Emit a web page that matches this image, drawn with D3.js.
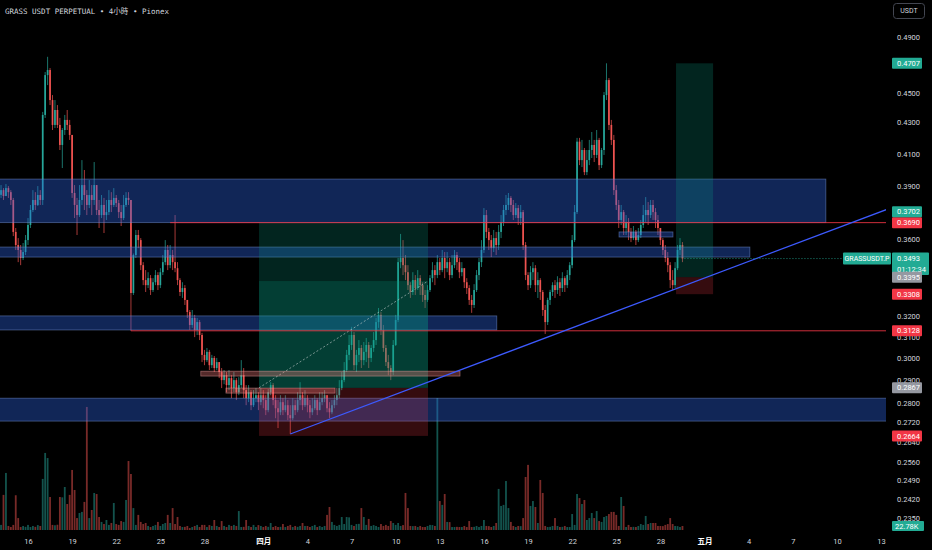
<!DOCTYPE html>
<html>
<head>
<meta charset="utf-8">
<script src="https://cdn.jsdelivr.net/npm/d3@7/dist/d3.min.js"></script>
<style>
  html, body { margin: 0; padding: 0; background: #000; }
  svg { display: block; }
  text { font-family: Roboto, "Noto Sans CJK SC", sans-serif; }
</style>
</head>
<body>
<svg id="chart"></svg>
<script>
var width = 932, height = 550
var plotW = 886, plotH = 530

// 4h candles, first bar opens 2025-03-14 04:00 UTC
var firstBar = Date.UTC(2025, 2, 14, 4)
var barMs = 4 * 3600 * 1000
var firstOpen = 0.3850

var closes = [
  0.3878, 0.3843, 0.3890, 0.3866, 0.3820,          // 3/14
  0.3638, 0.3566, 0.3539, 0.3496, 0.3528, 0.3593,  // 3/15
  0.3677, 0.3762, 0.3820, 0.3791, 0.3849, 0.3820,  // 3/16
  0.4350, 0.4623, 0.4659, 0.4450, 0.4284, 0.4383,  // 3/17
  0.4284, 0.4155, 0.4251, 0.4317, 0.4284, 0.4219,  // 3/18
  0.3861, 0.3791, 0.3733, 0.3820, 0.3908, 0.3849,  // 3/19
  0.3791, 0.3849, 0.3820, 0.3908, 0.3762, 0.3733,  // 3/20
  0.3791, 0.3733, 0.3750, 0.3820, 0.3791, 0.3832,  // 3/21
  0.3802, 0.3750, 0.3716, 0.3791, 0.3832, 0.3820,  // 3/22
  0.3314, 0.3512, 0.3621, 0.3593, 0.3458, 0.3380,  // 3/23
  0.3354, 0.3390, 0.3329, 0.3369, 0.3406, 0.3354,  // 3/24
  0.3421, 0.3474, 0.3539, 0.3458, 0.3512, 0.3474,  // 3/25
  0.3442, 0.3380, 0.3319, 0.3339, 0.3279, 0.3219,  // 3/26
  0.3156, 0.3190, 0.3132, 0.3170, 0.3108, 0.3015,  // 3/27
  0.2991, 0.3029, 0.2968, 0.3001, 0.2955, 0.2982,  // 3/28
  0.2937, 0.2901, 0.2923, 0.2879, 0.2910, 0.2866,  // 3/29
  0.2901, 0.2848, 0.2879, 0.2923, 0.2857, 0.2822,  // 3/30
  0.2848, 0.2792, 0.2822, 0.2835, 0.2805, 0.2835,  // 3/31
  0.2814, 0.2771, 0.2848, 0.2879, 0.2814, 0.2779,  // 4/1
  0.2762, 0.2805, 0.2771, 0.2792, 0.2750, 0.2737,  // 4/2
  0.2792, 0.2771, 0.2814, 0.2835, 0.2792, 0.2822,  // 4/3
  0.2792, 0.2762, 0.2779, 0.2814, 0.2771, 0.2805,  // 4/4
  0.2822, 0.2835, 0.2779, 0.2762, 0.2792, 0.2814,  // 4/5
  0.2835, 0.2866, 0.2901, 0.2946, 0.3015, 0.3061,  // 4/6
  0.3108, 0.2968, 0.3015, 0.3047, 0.2991, 0.3029,  // 4/7
  0.3061, 0.3001, 0.3047, 0.3084, 0.3170, 0.3205,  // 4/8
  0.3132, 0.3047, 0.2982, 0.2955, 0.2937, 0.3061,  // 4/9
  0.3180, 0.3474, 0.3496, 0.3458, 0.3421, 0.3354,  // 4/10
  0.3319, 0.3380, 0.3339, 0.3390, 0.3354, 0.3304,  // 4/11
  0.3279, 0.3329, 0.3390, 0.3432, 0.3406, 0.3474,  // 4/12
  0.3432, 0.3496, 0.3442, 0.3474, 0.3406, 0.3458,  // 4/13
  0.3512, 0.3474, 0.3421, 0.3442, 0.3369, 0.3339,  // 4/14
  0.3279, 0.3254, 0.3329, 0.3406, 0.3474, 0.3539,  // 4/15
  0.3733, 0.3638, 0.3593, 0.3549, 0.3604, 0.3566,  // 4/16
  0.3638, 0.3694, 0.3762, 0.3791, 0.3832, 0.3791,  // 4/17
  0.3733, 0.3773, 0.3716, 0.3750, 0.3566, 0.3406,  // 4/18
  0.3354, 0.3421, 0.3442, 0.3354, 0.3380, 0.3319,  // 4/19
  0.3229, 0.3170, 0.3279, 0.3319, 0.3354, 0.3329,  // 4/20
  0.3369, 0.3339, 0.3390, 0.3354, 0.3406, 0.3458,  // 4/21
  0.3593, 0.3750, 0.4176, 0.4060, 0.4123, 0.3986,  // 4/22
  0.4060, 0.4123, 0.4155, 0.4092, 0.4187, 0.4029,  // 4/23
  0.4123, 0.4484, 0.4588, 0.4284, 0.4187, 0.3878,  // 4/24
  0.3791, 0.3705, 0.3750, 0.3660, 0.3694, 0.3638,  // 4/25
  0.3604, 0.3638, 0.3593, 0.3621, 0.3677, 0.3733,  // 4/26
  0.3762, 0.3733, 0.3791, 0.3750, 0.3705, 0.3660,  // 4/27
  0.3593, 0.3539, 0.3496, 0.3458, 0.3380, 0.3354,  // 4/28
  0.3442, 0.3539, 0.3566, 0.3493                   // 4/29
]

var highs = [
  0.3908, 0.3890, 0.3914, 0.3902, 0.3878,
  0.3832, 0.3660, 0.3604, 0.3566, 0.3577, 0.3621,
  0.3716, 0.3791, 0.3878, 0.3866, 0.3902, 0.3878,
  0.4370, 0.4645, 0.4754, 0.4673, 0.4484, 0.4450,
  0.4416, 0.4330, 0.4264, 0.4350, 0.4383, 0.4317,
  0.4219, 0.3908, 0.3832, 0.3908, 0.4060, 0.3999,
  0.3878, 0.3938, 0.3908, 0.4048, 0.3890, 0.3820,
  0.3849, 0.3832, 0.3820, 0.3878, 0.3866, 0.3890,
  0.3849, 0.3820, 0.3791, 0.3849, 0.3866, 0.3866,
  0.3820, 0.3520, 0.3649, 0.3649, 0.3604, 0.3474,
  0.3432, 0.3421, 0.3406, 0.3390, 0.3432, 0.3421,
  0.3442, 0.3512, 0.3593, 0.3566, 0.3566, 0.3539,
  0.3733, 0.3474, 0.3390, 0.3369, 0.3354, 0.3269,
  0.3229, 0.3229, 0.3205, 0.3190, 0.3180, 0.3118,
  0.3038, 0.3047, 0.3038, 0.3015, 0.3010, 0.3001,
  0.2982, 0.2955, 0.2946, 0.2937, 0.2946, 0.2923,
  0.2937, 0.2910, 0.2914, 0.2991, 0.2955, 0.2879,
  0.2879, 0.2857, 0.2857, 0.2866, 0.2848, 0.2866,
  0.2857, 0.2835, 0.2862, 0.2892, 0.2888, 0.2835,
  0.2814, 0.2835, 0.2822, 0.2835, 0.2814, 0.2792,
  0.2822, 0.2814, 0.2848, 0.2892, 0.2848, 0.2857,
  0.2835, 0.2814, 0.2822, 0.2835, 0.2822, 0.2848,
  0.2848, 0.2857, 0.2835, 0.2805, 0.2814, 0.2835,
  0.2866, 0.2901, 0.2937, 0.2982, 0.3038, 0.3108,
  0.3147, 0.3122, 0.3038, 0.3084, 0.3061, 0.3075,
  0.3094, 0.3075, 0.3061, 0.3122, 0.3190, 0.3239,
  0.3219, 0.3156, 0.3061, 0.3015, 0.2968, 0.3084,
  0.3205, 0.3496, 0.3627, 0.3593, 0.3512, 0.3458,
  0.3369, 0.3421, 0.3406, 0.3432, 0.3406, 0.3369,
  0.3329, 0.3354, 0.3406, 0.3474, 0.3458, 0.3512,
  0.3496, 0.3539, 0.3528, 0.3528, 0.3496, 0.3512,
  0.3539, 0.3528, 0.3496, 0.3474, 0.3442, 0.3390,
  0.3354, 0.3304, 0.3359, 0.3432, 0.3496, 0.3593,
  0.3773, 0.3762, 0.3660, 0.3621, 0.3649, 0.3638,
  0.3677, 0.3733, 0.3791, 0.3849, 0.3861, 0.3843,
  0.3820, 0.3802, 0.3791, 0.3791, 0.3762, 0.3582,
  0.3421, 0.3453, 0.3474, 0.3458, 0.3421, 0.3390,
  0.3329, 0.3254, 0.3290, 0.3330, 0.3369, 0.3380,
  0.3400, 0.3390, 0.3421, 0.3400, 0.3432, 0.3474,
  0.3621, 0.3791, 0.4200, 0.4200, 0.4187, 0.4136,
  0.4123, 0.4187, 0.4238, 0.4187, 0.4251, 0.4200,
  0.4136, 0.4505, 0.4707, 0.4602, 0.4317, 0.4219,
  0.3908, 0.3820, 0.3791, 0.3762, 0.3733, 0.3716,
  0.3660, 0.3671, 0.3649, 0.3660, 0.3705, 0.3791,
  0.3837, 0.3808, 0.3820, 0.3820, 0.3773, 0.3733,
  0.3660, 0.3604, 0.3566, 0.3528, 0.3474, 0.3432,
  0.3474, 0.3566, 0.3604, 0.3582
]

var lows = [
  0.3832, 0.3820, 0.3855, 0.3832, 0.3791,
  0.3615, 0.3539, 0.3474, 0.3458, 0.3485, 0.3512,
  0.3566, 0.3660, 0.3750, 0.3762, 0.3785, 0.3791,
  0.3791, 0.4330, 0.4553, 0.4416, 0.4251, 0.4264,
  0.4264, 0.4123, 0.4011, 0.4219, 0.4251, 0.4187,
  0.3832, 0.3716, 0.3621, 0.3722, 0.3791, 0.3762,
  0.3733, 0.3773, 0.3733, 0.3791, 0.3733, 0.3660,
  0.3716, 0.3632, 0.3705, 0.3733, 0.3750, 0.3779,
  0.3779, 0.3716, 0.3671, 0.3705, 0.3779, 0.3791,
  0.3128, 0.3304, 0.3496, 0.3549, 0.3432, 0.3354,
  0.3319, 0.3339, 0.3304, 0.3319, 0.3354, 0.3329,
  0.3339, 0.3406, 0.3458, 0.3432, 0.3442, 0.3432,
  0.3421, 0.3354, 0.3299, 0.3289, 0.3254, 0.3190,
  0.3132, 0.3142, 0.3098, 0.3108, 0.3084, 0.2982,
  0.2968, 0.2982, 0.2946, 0.2955, 0.2937, 0.2946,
  0.2910, 0.2866, 0.2883, 0.2848, 0.2857, 0.2822,
  0.2848, 0.2814, 0.2835, 0.2866, 0.2822, 0.2792,
  0.2805, 0.2771, 0.2784, 0.2805, 0.2771, 0.2792,
  0.2779, 0.2750, 0.2762, 0.2835, 0.2792, 0.2737,
  0.2696, 0.2750, 0.2750, 0.2762, 0.2729, 0.2672,
  0.2729, 0.2750, 0.2762, 0.2792, 0.2771, 0.2784,
  0.2762, 0.2737, 0.2750, 0.2771, 0.2750, 0.2771,
  0.2792, 0.2805, 0.2762, 0.2737, 0.2754, 0.2779,
  0.2792, 0.2822, 0.2857, 0.2892, 0.2937, 0.2991,
  0.3038, 0.2946, 0.2937, 0.2982, 0.2955, 0.2968,
  0.2982, 0.2955, 0.2982, 0.3029, 0.3061, 0.3142,
  0.3108, 0.3029, 0.2964, 0.2923, 0.2901, 0.2923,
  0.3056, 0.3170, 0.3442, 0.3406, 0.3380, 0.3329,
  0.3289, 0.3304, 0.3304, 0.3329, 0.3304, 0.3269,
  0.3239, 0.3269, 0.3319, 0.3369, 0.3354, 0.3390,
  0.3406, 0.3421, 0.3390, 0.3421, 0.3380, 0.3390,
  0.3442, 0.3432, 0.3390, 0.3400, 0.3339, 0.3309,
  0.3254, 0.3215, 0.3239, 0.3319, 0.3380, 0.3448,
  0.3523, 0.3604, 0.3539, 0.3501, 0.3528, 0.3512,
  0.3539, 0.3604, 0.3671, 0.3733, 0.3762, 0.3750,
  0.3705, 0.3716, 0.3677, 0.3677, 0.3539, 0.3380,
  0.3329, 0.3339, 0.3380, 0.3319, 0.3289, 0.3279,
  0.3200, 0.3113, 0.3156, 0.3254, 0.3299, 0.3289,
  0.3309, 0.3299, 0.3319, 0.3319, 0.3339, 0.3380,
  0.3442, 0.3582, 0.3739, 0.4029, 0.4017, 0.3968,
  0.3968, 0.4029, 0.4073, 0.4048, 0.4073, 0.3999,
  0.4011, 0.4092, 0.4450, 0.4251, 0.4155, 0.3849,
  0.3762, 0.3660, 0.3677, 0.3621, 0.3621, 0.3593,
  0.3582, 0.3593, 0.3566, 0.3582, 0.3604, 0.3660,
  0.3694, 0.3677, 0.3716, 0.3705, 0.3660, 0.3621,
  0.3566, 0.3512, 0.3474, 0.3421, 0.3339, 0.3329,
  0.3339, 0.3432, 0.3512, 0.3474
]

// volume, thousands
var volumes = [
  29, 200, 325, 23, 17,
  29, 198, 68, 17, 23, 18,
  29, 17, 23, 18, 28, 23,
  291, 439, 410, 188, 29, 27,
  30, 188, 186, 245, 148, 200,
  342, 228, 68, 97, 103, 160,
  701, 68, 114, 211, 205, 74,
  46, 34, 57, 29, 40, 154,
  34, 29, 51, 46, 171, 393,
  319, 125, 29, 86, 46, 34,
  40, 23, 17, 23, 29, 46,
  23, 34, 40, 86, 40, 125,
  34, 74, 23, 17, 18, 23,
  11, 17, 23, 29, 17, 29,
  29, 17, 28, 23, 57, 23,
  17, 51, 23, 17, 29, 23,
  29, 23, 108, 17, 18, 57,
  23, 17, 29, 17, 28, 23,
  17, 23, 18, 40, 17, 23,
  17, 18, 34, 17, 23, 29,
  17, 23, 18, 23, 40, 23,
  23, 17, 23, 29, 17, 23,
  17, 23, 86, 131, 46, 29,
  23, 29, 74, 34, 74, 72,
  29, 23, 34, 35, 125, 74,
  29, 63, 23, 28, 23, 17,
  34, 23, 29, 23, 51, 40,
  29, 40, 23, 28, 211, 125,
  23, 22, 23, 17, 23, 17,
  17, 23, 29, 28, 23, 752,
  165, 143, 205, 46, 45, 17,
  17, 18, 17, 17, 23, 17,
  51, 17, 18, 23, 17, 23,
  57, 23, 22, 17, 23, 40,
  234, 137, 143, 279, 125, 46,
  23, 17, 23, 22, 68, 302,
  371, 137, 165, 131, 40, 285,
  211, 23, 17, 18, 23, 68,
  23, 17, 18, 23, 17, 17,
  91, 29, 205, 182, 148, 171,
  57, 68, 97, 68, 108, 51,
  46, 74, 80, 91, 103, 103,
  86, 23, 188, 137, 17, 29,
  17, 18, 17, 23, 34, 29,
  80, 34, 40, 40, 40, 23,
  23, 22, 29, 34, 68, 34,
  23, 22, 17, 22.78
]

var priceTicks = [0.49, 0.45, 0.43, 0.41, 0.39, 0.36, 0.32, 0.31, 0.30, 0.29, 0.28, 0.272, 0.264, 0.256, 0.249, 0.242, 0.235]
var dateTicks = ["2025-03-16", "2025-03-19", "2025-03-22", "2025-03-25", "2025-03-28", "2025-04-01", "2025-04-04",
  "2025-04-07", "2025-04-10", "2025-04-13", "2025-04-16", "2025-04-19", "2025-04-22", "2025-04-25", "2025-04-28",
  "2025-05-01", "2025-05-04", "2025-05-07", "2025-05-10", "2025-05-13"]
var monthNames = ["一月", "二月", "三月", "四月", "五月", "六月", "七月", "八月", "九月", "十月", "十一月", "十二月"]

// drawings: [from, to, top price, bottom price]
var zones = [
  ["2025-03-12T00:00", "2025-05-09T06:00", 0.3944, 0.3690],
  ["2025-03-12T00:00", "2025-05-04T02:00", 0.3555, 0.3501],
  ["2025-03-12T00:00", "2025-04-16T21:00", 0.3200, 0.3132],
  ["2025-03-12T00:00", "2025-05-20T00:00", 0.2822, 0.2725],
  ["2025-04-25T04:30", "2025-04-28T20:30", 0.3638, 0.3610]
]
var pinkBoxes = [
  ["2025-03-27T18:00", "2025-04-14T09:00", 0.2941, 0.2919],
  ["2025-03-29T11:00", "2025-04-05T21:00", 0.2866, 0.2844]
]
// horizontal rays: [from, price]
var rays = [["2025-03-25T16:00", 0.3690], ["2025-03-23T00:00", 0.3128]]
// long positions: [from, to, entry, target, stop, exit]
var longs = [
  ["2025-03-31T17:00", "2025-04-12T04:45", 0.2867, 0.3690, 0.2664, 0.3375],
  ["2025-04-29T01:30", "2025-05-01T14:00", 0.3395, 0.4707, 0.3308, null]
]
var trend = [["2025-04-02T20:00", 0.2672], ["2025-04-28T20:00", 0.3329]]
var lastPrice = 0.3493
var countdown = "01:12:34"
// price scale tags: [price, kind]
var tags = [[0.4707, "up"], [0.3702, "up"], [0.3690, "down"], [0.3395, "flat"], [0.3308, "down"],
  [0.3128, "down"], [0.2867, "flat"], [0.2664, "down"]]

var upColor = "#26a69a", downColor = "#ef5350"
var tagFill = {up: "#22ab94", down: "#f23645", flat: "#9598a1"}
var parseT = d3.utcParse("%Y-%m-%dT%H:%M")
var parseD = d3.utcParse("%Y-%m-%d")

var bars = closes.map((c, i) => {
  var o = i ? closes[i - 1] : firstOpen
  return {t: new Date(firstBar + i * barMs), o: o, c: c,
    h: Math.max(highs[i], o, c), l: Math.min(lows[i], o, c), v: volumes[i]}
})

var x = d3.scaleUtc()
    .domain([parseD("2025-03-16"), parseD("2025-05-13")])
    .range([28, 881])
var y = d3.scaleLog()
    .domain([0.235, 0.49])
    .range([518, 37])
var yVol = d3.scaleLinear()
    .domain([0, d3.max(volumes)])
    .range([plotH, 398])

var svg = d3.select("#chart")
    .attr("width", width)
    .attr("height", height)
svg.append("rect").attr("width", width).attr("height", height).attr("fill", "#000")
svg.append("defs").append("clipPath").attr("id", "plot")
    .append("rect").attr("width", plotW).attr("height", plotH)

var plot = svg.append("g").attr("clip-path", "url(#plot)")

// volume
plot.append("g").selectAll("rect")
    .data(bars)
    .join("rect")
        .attr("x", d => x(d.t) - 0.9)
        .attr("width", 1.8)
        .attr("y", d => yVol(d.v))
        .attr("height", d => plotH - yVol(d.v))
        .attr("fill", d => d.c >= d.o ? "rgba(38,166,154,0.5)" : "rgba(239,83,80,0.5)")

// candles
var cg = plot.append("g")
cg.selectAll("line")
    .data(bars)
    .join("line")
        .attr("x1", d => x(d.t))
        .attr("x2", d => x(d.t))
        .attr("y1", d => y(d.h))
        .attr("y2", d => y(d.l))
        .attr("stroke", d => d.c >= d.o ? upColor : downColor)
        .attr("stroke-width", 0.7)
cg.selectAll("rect")
    .data(bars)
    .join("rect")
        .attr("x", d => x(d.t) - 0.85)
        .attr("width", 1.7)
        .attr("y", d => y(Math.max(d.o, d.c)))
        .attr("height", d => Math.max(0.8, Math.abs(y(d.o) - y(d.c))))
        .attr("fill", d => d.c >= d.o ? upColor : downColor)

// zones
plot.append("g").selectAll("rect")
    .data(zones)
    .join("rect")
        .attr("x", d => x(parseT(d[0])))
        .attr("width", d => x(parseT(d[1])) - x(parseT(d[0])))
        .attr("y", d => y(d[2]))
        .attr("height", d => y(d[3]) - y(d[2]))
        .attr("fill", "rgba(45,100,230,0.38)")
        .attr("stroke", "rgba(120,150,215,0.55)")
        .attr("stroke-width", 0.8)

// long position tools
longs.forEach(p => {
    var x0 = x(parseT(p[0])), x1 = x(parseT(p[1]))
    var g = plot.append("g")
    g.append("rect")
        .attr("x", x0).attr("width", x1 - x0)
        .attr("y", y(p[3])).attr("height", y(p[2]) - y(p[3]))
        .attr("fill", "rgba(8,153,129,0.24)")
    g.append("rect")
        .attr("x", x0).attr("width", x1 - x0)
        .attr("y", y(p[2])).attr("height", y(p[4]) - y(p[2]))
        .attr("fill", "rgba(242,54,69,0.22)")
    if (p[5] != null) {
        g.append("rect")
            .attr("x", x0).attr("width", x1 - x0)
            .attr("y", y(p[5])).attr("height", y(p[2]) - y(p[5]))
            .attr("fill", "rgba(8,153,129,0.22)")
        g.append("line")
            .attr("x1", x0).attr("y1", y(p[2]))
            .attr("x2", x1).attr("y2", y(p[5]))
            .attr("stroke", "rgba(190,200,200,0.7)")
            .attr("stroke-width", 0.9)
            .attr("stroke-dasharray", "2,2")
    }
})

// small pink rectangles
plot.append("g").selectAll("rect")
    .data(pinkBoxes)
    .join("rect")
        .attr("x", d => x(parseT(d[0])))
        .attr("width", d => x(parseT(d[1])) - x(parseT(d[0])))
        .attr("y", d => y(d[2]))
        .attr("height", d => y(d[3]) - y(d[2]))
        .attr("fill", "rgba(240,120,120,0.35)")
        .attr("stroke", "rgba(250,170,170,0.55)")
        .attr("stroke-width", 0.7)

// horizontal rays
plot.append("g").selectAll("line")
    .data(rays)
    .join("line")
        .attr("x1", d => x(parseT(d[0])))
        .attr("x2", plotW)
        .attr("y1", d => y(d[1]))
        .attr("y2", d => y(d[1]))
        .attr("stroke", "#f23645")
        .attr("stroke-opacity", 0.85)
        .attr("stroke-width", 1)

// trend line, extended right (straight on the log scale)
var t1 = parseT(trend[0][0]), t2 = parseT(trend[1][0])
var tEnd = x.invert(plotW + 4)
var slope = (Math.log(trend[1][1]) - Math.log(trend[0][1])) / (t2 - t1)
var pEnd = Math.exp(Math.log(trend[0][1]) + slope * (tEnd - t1))
plot.append("line")
    .attr("x1", x(t1)).attr("y1", y(trend[0][1]))
    .attr("x2", x(tEnd)).attr("y2", y(pEnd))
    .attr("stroke", "#3d5afe")
    .attr("stroke-width", 1.2)

// last price line
var lastBar = bars[bars.length - 1]
plot.append("line")
    .attr("x1", x(lastBar.t) + 2).attr("x2", plotW)
    .attr("y1", y(lastPrice)).attr("y2", y(lastPrice))
    .attr("stroke", "#22ab94")
    .attr("stroke-width", 0.8)
    .attr("stroke-dasharray", "1,2")

// price axis
var yAxis = svg.append("g")
    .attr("transform", "translate(894,0)")
    .call(d3.axisRight(y).tickValues(priceTicks).tickSize(0).tickPadding(3).tickFormat(d3.format(".4f")))
yAxis.select(".domain").remove()
yAxis.attr("font-family", "Roboto, sans-serif").attr("font-size", 7.5).attr("color", "#d1d4dc")

// time axis
var xAxis = svg.append("g")
    .attr("transform", "translate(0," + plotH + ")")
    .call(d3.axisBottom(x)
        .tickValues(dateTicks.map(parseD))
        .tickSize(0).tickPadding(8.4)
        .tickFormat(d => d.getUTCDate() == 1 ? monthNames[d.getUTCMonth()] : d.getUTCDate()))
xAxis.select(".domain").remove()
xAxis.attr("font-family", "Roboto, 'Noto Sans CJK SC', sans-serif").attr("font-size", 7.5).attr("color", "#d1d4dc")
xAxis.selectAll("text").filter(d => d.getUTCDate() == 1).attr("font-weight", "bold").attr("fill", "#fff")

var tg = svg.append("g").attr("font-size", 7.5)

// last price tag with countdown and symbol name (drawn first, other tags sit on top)
var ly = y(lastPrice)
tg.append("rect").attr("x", 892).attr("y", ly - 6).attr("width", 37).attr("height", 22.5).attr("rx", 1).attr("fill", "#22ab94")
tg.append("text").attr("x", 897).attr("y", ly).attr("dy", "0.35em").attr("fill", "#fff").text(d3.format(".4f")(lastPrice))
tg.append("text").attr("x", 897).attr("y", ly + 10.5).attr("dy", "0.35em").attr("fill", "#fff").text(countdown)
tg.append("rect").attr("x", 843).attr("y", ly - 6).attr("width", 48).attr("height", 12).attr("rx", 1).attr("fill", "#22ab94")
tg.append("text").attr("x", 867).attr("y", ly).attr("dy", "0.35em").attr("text-anchor", "middle")
    .attr("fill", "#fff").attr("font-size", 7).text("GRASSUSDT.P")

// price tags, pushed apart where they collide
var placed = tags.map(d => ({p: d[0], kind: d[1], cy: y(d[0])})).sort((a, b) => b.cy - a.cy)
for (var k = 1; k < placed.length; k++) {
    if (placed[k].cy > placed[k - 1].cy - 11) placed[k].cy = placed[k - 1].cy - 11
}
placed.forEach(d => {
    tg.append("rect")
        .attr("x", 892).attr("y", d.cy - 5.5)
        .attr("width", 30).attr("height", 11).attr("rx", 1)
        .attr("fill", tagFill[d.kind])
    tg.append("text")
        .attr("x", 897).attr("y", d.cy)
        .attr("dy", "0.35em")
        .attr("fill", "#fff")
        .text(d3.format(".4f")(d.p))
})

// volume tag
var vy = Math.min(yVol(lastBar.v), plotH - 4)
tg.append("rect").attr("x", 892).attr("y", vy - 5).attr("width", 32).attr("height", 10).attr("rx", 1).attr("fill", "#22ab94")
tg.append("text").attr("x", 895).attr("y", vy).attr("dy", "0.35em").attr("fill", "#fff")
    .text(d3.format(".2f")(lastBar.v) + "K")

// currency button
svg.append("rect")
    .attr("x", 893.5).attr("y", 3.5).attr("width", 31).attr("height", 15).attr("rx", 3)
    .attr("fill", "#000").attr("stroke", "#434651")
svg.append("text")
    .attr("x", 909).attr("y", 11).attr("dy", "0.35em")
    .attr("text-anchor", "middle").attr("font-size", 7).attr("fill", "#d1d4dc")
    .text("USDT")

// title
svg.append("text")
    .attr("x", 5).attr("y", 11).attr("dy", "0.35em")
    .style("font-family", "'DejaVu Sans Mono', 'Noto Sans CJK TC', monospace")
    .style("font-size", "7.5px")
    .attr("fill", "#d1d4dc")
    .text("GRASS USDT PERPETUAL • 4小時 • Pionex")
</script>
</body>
</html>
